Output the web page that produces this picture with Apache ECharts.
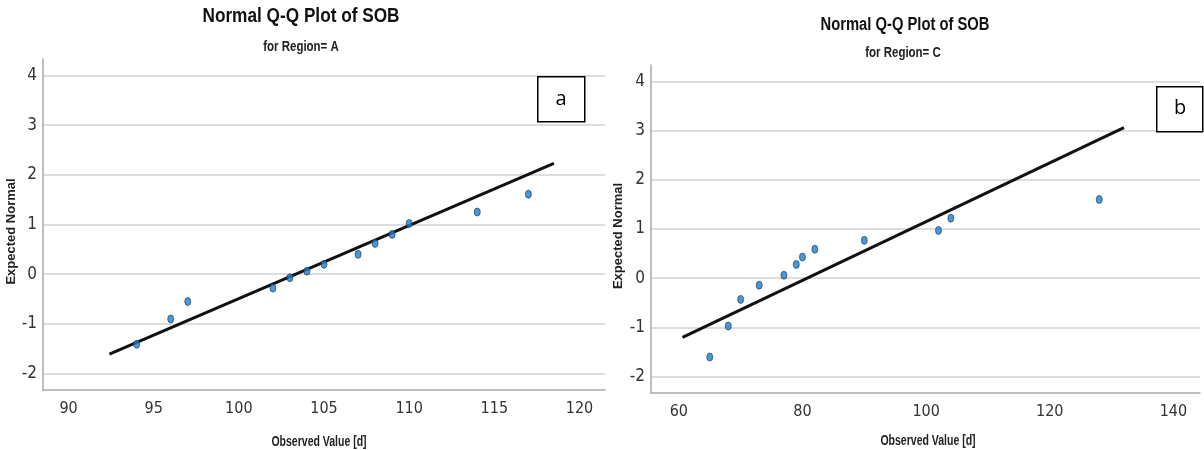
<!DOCTYPE html>
<html>
<head>
<meta charset="utf-8">
<title>Normal Q-Q Plot of SOB</title>
<script src="https://cdn.jsdelivr.net/npm/echarts@6/dist/echarts.min.js"></script>
<style>
  html, body { margin: 0; padding: 0; background: #fff; }
  #chart { width: 1204px; height: 450px; }
</style>
</head>
<body>
<div id="chart"></div>
<script>
// Region A (panel a)
const obsA = [94, 96, 97, 102, 103, 104, 105, 107, 108, 109, 110, 114, 117];
const expA = [-1.41, -0.90, -0.55, -0.28, -0.07, 0.06, 0.20, 0.40, 0.62, 0.80, 1.02, 1.25, 1.61];
const refLineAx = [92.4, 118.5];
const refLineAy = [-1.61, 2.23];

// Region C (panel b)
const obsC = [65, 68, 70, 73, 77, 79, 80, 82, 90, 102, 104, 128];
const expC = [-1.60, -0.97, -0.43, -0.14, 0.06, 0.28, 0.43, 0.59, 0.77, 0.97, 1.22, 1.60];
const refLineCx = [60.6, 132.0];
const refLineCy = [-1.20, 3.06];

const NARROW = "'DejaVu Sans Condensed', sans-serif";
const WIDE = "'Liberation Sans', Arial, sans-serif";

const zip = (xs, ys) => xs.map((x, i) => [x, ys[i]]);

function xAxisFor(gridIndex, min, max, splitNumber) {
    return {
        type: 'value', gridIndex, min, max, splitNumber,
        axisLine: { onZero: false, lineStyle: { color: '#a8a8a8', width: 1.5 } },
        axisTick: { show: false },
        axisLabel: { fontFamily: NARROW, fontSize: 16, color: '#333', margin: 11, showMinLabel: false, showMaxLabel: false },
        splitLine: { show: false }
    };
}

function yAxisFor(gridIndex, nameGap) {
    return {
        type: 'value', gridIndex, min: -2.33, max: 4.33, splitNumber: 7,
        name: 'Expected Normal', nameLocation: 'middle', nameGap,
        nameTextStyle: { fontFamily: WIDE, fontSize: 13, fontWeight: 'bold', color: '#222', padding: [0, 0, 0, -14] },
        axisLine: { show: true, onZero: false, lineStyle: { color: '#a8a8a8', width: 1.5 } },
        axisTick: { show: false },
        axisLabel: { fontFamily: NARROW, fontSize: 17, color: '#333', margin: 6, showMinLabel: false, showMaxLabel: false },
        splitLine: { show: true, showMinLine: false, showMaxLine: false, lineStyle: { color: '#d2d2d2', width: 1.5 } }
    };
}

function pointSeries(axisIndex, data) {
    return {
        type: 'scatter', xAxisIndex: axisIndex, yAxisIndex: axisIndex,
        data, symbol: 'circle', symbolSize: [6, 8],
        itemStyle: { color: '#1b80cf', borderColor: '#1d3550', borderWidth: 0.8 },
        z: 3
    };
}

function refSeries(axisIndex, data) {
    return {
        type: 'line', xAxisIndex: axisIndex, yAxisIndex: axisIndex,
        data, symbol: 'none',
        lineStyle: { color: '#111', width: 3 },
        z: 2
    };
}

// narrow-looking label: Liberation Sans squeezed horizontally
function narrowText(text, x, y, size, squeeze, color) {
    return {
        type: 'text', x, y, scaleX: squeeze, z: 12,
        style: { text, fontFamily: WIDE, fontSize: size, fontWeight: 'bold', fill: color,
                 align: 'center', verticalAlign: 'middle' }
    };
}

const chart = echarts.init(document.getElementById('chart'));
chart.setOption({
    animation: false,
    backgroundColor: '#fff',
    grid: [
        { left: 43, top: 59, width: 562, height: 331 },
        { left: 651, top: 65, width: 549, height: 328 }
    ],
    xAxis: [
        xAxisFor(0, 88.5, 121.5, 7),
        xAxisFor(1, 55.5, 144.3, 4)
    ],
    yAxis: [
        yAxisFor(0, 24),
        yAxisFor(1, 26)
    ],
    series: [
        refSeries(0, zip(refLineAx, refLineAy)),
        pointSeries(0, zip(obsA, expA)),
        refSeries(1, zip(refLineCx, refLineCy)),
        pointSeries(1, zip(obsC, expC))
    ],
    graphic: [
        narrowText('Normal Q-Q Plot of SOB', 301, 16, 21, 0.82, '#111'),
        narrowText('for Region= A', 301, 47, 14, 0.82, '#222'),
        narrowText('Normal Q-Q Plot of SOB', 905, 25, 18, 0.82, '#111'),
        narrowText('for Region= C', 903, 53, 14, 0.82, '#222'),
        narrowText('Observed Value [d]', 319, 442, 14, 0.75, '#222'),
        narrowText('Observed Value [d]', 928, 441, 14, 0.75, '#222'),
        { type: 'rect', left: 537, top: 76, shape: { width: 47, height: 45 },
          style: { fill: '#fff', stroke: '#000', lineWidth: 1.5 }, z: 10 },
        { type: 'text', x: 561, y: 99, style: { text: 'a', fontFamily: "'Open Sans', sans-serif", fontSize: 20, fill: '#000', align: 'center', verticalAlign: 'middle' }, z: 11 },
        { type: 'rect', left: 1156, top: 86, shape: { width: 46, height: 45 },
          style: { fill: '#fff', stroke: '#000', lineWidth: 1.5 }, z: 10 },
        { type: 'text', x: 1180, y: 108, style: { text: 'b', fontFamily: "'Open Sans', sans-serif", fontSize: 20, fill: '#000', align: 'center', verticalAlign: 'middle' }, z: 11 }
    ]
});
</script>
</body>
</html>
